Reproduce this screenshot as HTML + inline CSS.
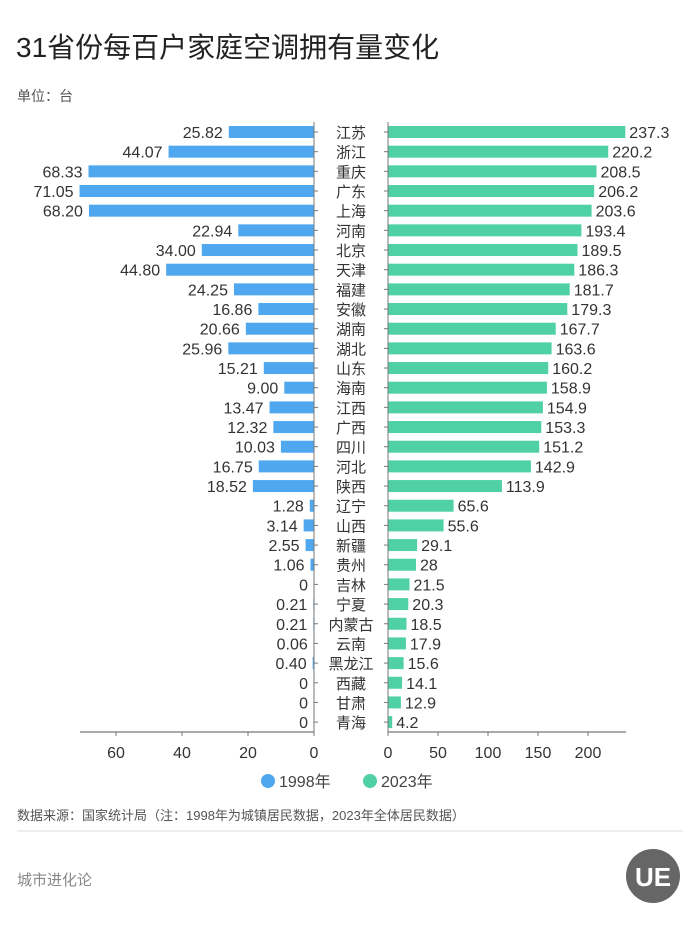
<!DOCTYPE html>
<html><head><meta charset="utf-8">
<style>
body{margin:0;background:#fff;}
svg text{font-family:"Liberation Sans","Noto Sans CJK SC",sans-serif;}
</style></head>
<body>
<svg id="chart" width="700" height="934" viewBox="0 0 700 934" xmlns="http://www.w3.org/2000/svg">
<text x="16" y="57" font-size="28" fill="#222">31省份每百户家庭空调拥有量变化</text>
<text x="17" y="101" font-size="14" fill="#555">单位：台</text>
<g id="plot"></g>
<g>
<circle cx="268" cy="781" r="7" fill="#4fa8ef"/>
<text x="279" y="787" font-size="16" fill="#444">1998年</text>
<circle cx="370" cy="781" r="7" fill="#4fd1a5"/>
<text x="381" y="787" font-size="16" fill="#444">2023年</text>
</g>
<text x="17" y="820" font-size="13" fill="#555">数据来源：国家统计局（注：1998年为城镇居民数据，2023年全体居民数据）</text>
<line x1="17" y1="831" x2="683" y2="831" stroke="#ddd" stroke-width="1"/>
<text x="17" y="885" font-size="15" fill="#888">城市进化论</text>
<circle cx="653" cy="876" r="27" fill="#666"/>
<text x="653" y="886" font-size="26" font-weight="bold" fill="#fff" text-anchor="middle">UE</text>
</svg>
<script>
const provinces=["江苏","浙江","重庆","广东","上海","河南","北京","天津","福建","安徽","湖南","湖北","山东","海南","江西","广西","四川","河北","陕西","辽宁","山西","新疆","贵州","吉林","宁夏","内蒙古","云南","黑龙江","西藏","甘肃","青海"];
const v1998=[25.82,44.07,68.33,71.05,68.20,22.94,34.00,44.80,24.25,16.86,20.66,25.96,15.21,9.00,13.47,12.32,10.03,16.75,18.52,1.28,3.14,2.55,1.06,0,0.21,0.21,0.06,0.40,0,0,0];
const label1998=["25.82","44.07","68.33","71.05","68.20","22.94","34.00","44.80","24.25","16.86","20.66","25.96","15.21","9.00","13.47","12.32","10.03","16.75","18.52","1.28","3.14","2.55","1.06","0","0.21","0.21","0.06","0.40","0","0","0"];
const v2023=[237.3,220.2,208.5,206.2,203.6,193.4,189.5,186.3,181.7,179.3,167.7,163.6,160.2,158.9,154.9,153.3,151.2,142.9,113.9,65.6,55.6,29.1,28,21.5,20.3,18.5,17.9,15.6,14.1,12.9,4.2];
const leftTicks=[60,40,20,0];
const rightTicks=[0,50,100,150,200];
const NS="http://www.w3.org/2000/svg";
const g=document.getElementById('plot');
const xL=v=>314-v*3.3;
const xR=v=>388+v*1.0;
const yRow=i=>132+i*19.67;
function mk(tag,attrs,txt){const e=document.createElementNS(NS,tag);for(const k in attrs)e.setAttribute(k,attrs[k]);if(txt!==undefined)e.textContent=txt;g.appendChild(e);return e;}
provinces.forEach((p,i)=>{
  const y=yRow(i);
  let b=mk('rect',{x:xL(v1998[i]),y:y-6,width:Math.max(v1998[i]*3.3,0),height:12,fill:'#4fa8ef'});
  
  
  let t=mk('text',{x:xL(v1998[i])-6,y:y+6,'font-size':16,fill:'#333','text-anchor':'end'},label1998[i]);
  
  
  let b2=mk('rect',{x:388,y:y-6,width:v2023[i]*1.0,height:12,fill:'#4fd1a5'});
  
  
  let t2=mk('text',{x:xR(v2023[i])+4,y:y+6,'font-size':16,fill:'#333'},String(v2023[i]));
  
  
  let c=mk('text',{x:351,y:y+6,'font-size':15,fill:'#333','text-anchor':'middle'},p);
  
  
  mk('line',{x1:314,x2:318,y1:y,y2:y,stroke:'#777'});
  mk('line',{x1:384,x2:388,y1:y,y2:y,stroke:'#777'});
});
let a1=mk('line',{x1:314,x2:314,y1:122,y2:735,stroke:'#777'});


let a2=mk('line',{x1:388,x2:388,y1:122,y2:735,stroke:'#777'});


let x1=mk('line',{x1:80,x2:314,y1:732,y2:732,stroke:'#777','stroke-width':1.2});


let x2=mk('line',{x1:388,x2:626,y1:732,y2:732,stroke:'#777','stroke-width':1.2});


leftTicks.forEach(v=>{
  mk('line',{x1:xL(v),x2:xL(v),y1:732,y2:736,stroke:'#777'});
  let t=mk('text',{x:xL(v),y:758,'font-size':16,fill:'#333','text-anchor':'middle'},String(v));
  
  
});
rightTicks.forEach(v=>{
  mk('line',{x1:xR(v),x2:xR(v),y1:732,y2:736,stroke:'#777'});
  let t=mk('text',{x:xR(v),y:758,'font-size':16,fill:'#333','text-anchor':'middle'},String(v));
  
  
});
</script>
</body></html>
